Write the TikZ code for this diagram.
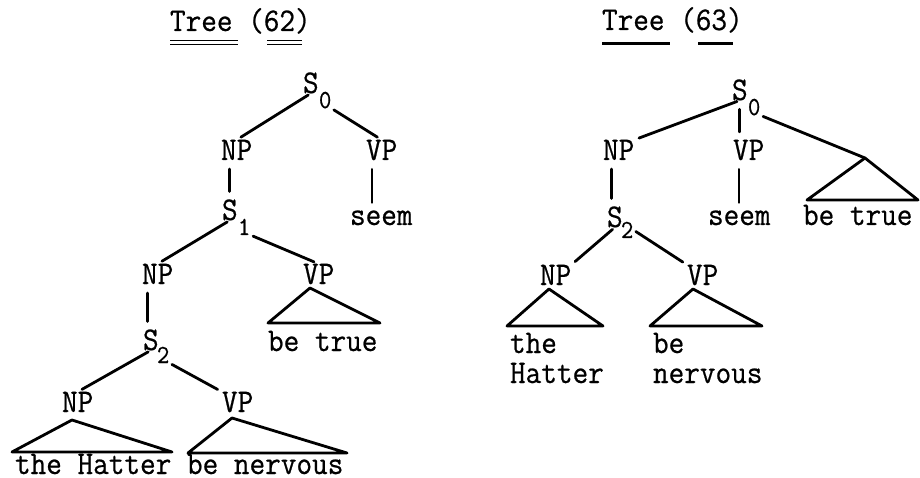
\documentclass[tikz,border=0pt]{standalone}
\usepackage{fontspec}
\newfontfamily\tw{Latin Modern Mono}[FakeStretch=0.92,FakeBold=0.6]
\usetikzlibrary{calc}
\tikzset{
  lbl/.style={anchor=base west,inner sep=0pt,outer sep=0pt,font=\tw\fontsize{33}{38}\selectfont},
  subidx/.style={anchor=base west,inner sep=0pt,outer sep=0pt,font=\tw\fontsize{26}{30}\selectfont},
  ln/.style={line width=2.8pt,line cap=round,shorten <=3pt,shorten >=5pt},
  vl/.style={line width=2.8pt,line cap=round,shorten <=9pt,shorten >=8pt},
  tri/.style={line width=2.8pt,line cap=round,line join=round},
  uline/.style={line width=1.8pt},
  ulthick/.style={line width=3.6pt}
}
\begin{document}
\begin{tikzpicture}[x=1pt,y=-1pt]
\useasboundingbox (0,0) rectangle (920,478);
% ---------------- Tree (62) ----------------
\node[lbl] (t62) at (170,31) {Tree (62)};
\draw[uline] (170,40.5) -- (238,40.5) (170,44.5) -- (238,44.5);
\draw[uline] (267,40.5) -- (302,40.5) (267,44.5) -- (302,44.5);
\node[lbl] (s0) at (303,93) {S};
\node[subidx] (s0i) at (319,108) {0};
\node[lbl] (np1) at (221,160) {NP};
\node[lbl] (vp1) at (366,160) {VP};
\node[lbl] (seem1) at (350,225) {seem};
\node[lbl] (s1) at (222,220) {S};
\node[subidx] (s1i) at (238,235) {1};
\node[lbl] (np2) at (142,284) {NP};
\node[lbl] (vp2) at (303,284) {VP};
\node[lbl] (true1) at (268,351) {be true};
\node[lbl] (s2) at (143,350) {S};
\node[subidx] (s2i) at (157,363) {2};
\node[lbl] (np3) at (62,412) {NP};
\node[lbl] (vp3) at (222,412) {VP};
\node[lbl] (leaves1) at (15,474) {the Hatter be nervous};
\draw[ln] (s0.south) -- (np1.north);
\draw[ln] (s0i.south east) -- (vp1.north);
\draw[vl] (np1.south -| s1.north) -- (s1.north);
\draw[vl] ([xshift=6pt]vp1.south west) -- ([xshift=6pt]vp1.south west |- seem1.north);
\draw[ln] (s1.south) -- (np2.north);
\draw[ln] (s1i.south east) -- (vp2.north);
\draw[vl] ([xshift=-3pt]np2.south -| s2.north) -- ([xshift=-3pt]s2.north);
\draw[ln] (s2.south) -- (np3.north);
\draw[ln] (s2i.south east) -- (vp3.north west);
\draw[tri] (310,288) -- (268,323) -- (380,323) -- cycle;
\draw[tri] (72,420) -- (12,452) -- (172,452) -- cycle;
\draw[tri] (232,418) -- (188,453) -- (347,453) -- cycle;
% ---------------- Tree (63) ----------------
\node[lbl] (t63) at (602,30) {Tree (63)};
\draw[ulthick] (602,43.5) -- (670,43.5);
\draw[ulthick] (698,43.5) -- (733,43.5);
\node[lbl] (s0r) at (732,100) {S};
\node[subidx] (s0ri) at (748,115) {0};
\node[lbl] (npr) at (603,160) {NP};
\node[lbl] (vpr) at (733,160) {VP};
\node[lbl] (seemr) at (708,225) {seem};
\node[lbl] (truer) at (803,225) {be true};
\node[lbl] (s2r) at (607,227) {S};
\node[subidx] (s2ri) at (621,238) {2};
\node[lbl] (np4) at (540,285) {NP};
\node[lbl] (vp4) at (687,285) {VP};
\node[lbl] (the) at (510,353) {the};
\node[lbl] (hatter) at (510,383) {Hatter};
\node[lbl] (be) at (653,353) {be};
\node[lbl] (nervous) at (653,383) {nervous};
\coordinate (apexr) at (865,158);
\draw[ln] (s0r.south) -- (npr.north east);
\draw[vl] (s0r.south) -- (s0r.south |- vpr.north);
\draw[ln,shorten >=0pt] (s0ri.south east) -- (apexr);
\draw[vl] ([xshift=-3pt]npr.south -| s2r.north) -- ([xshift=-3pt]s2r.north);
\draw[vl] ([xshift=6pt]vpr.south west) -- ([xshift=6pt]vpr.south west |- seemr.north);
\draw[ln] (s2r.south) -- (np4.north east);
\draw[ln] (s2ri.east) -- (vp4.north west);
\draw[tri] (apexr) -- (807,200) -- (918,200) -- cycle;
\draw[tri] (549,289) -- (507,326) -- (603,326) -- cycle;
\draw[tri] (693,289) -- (650,326) -- (762,326) -- cycle;
\end{tikzpicture}
\end{document}
